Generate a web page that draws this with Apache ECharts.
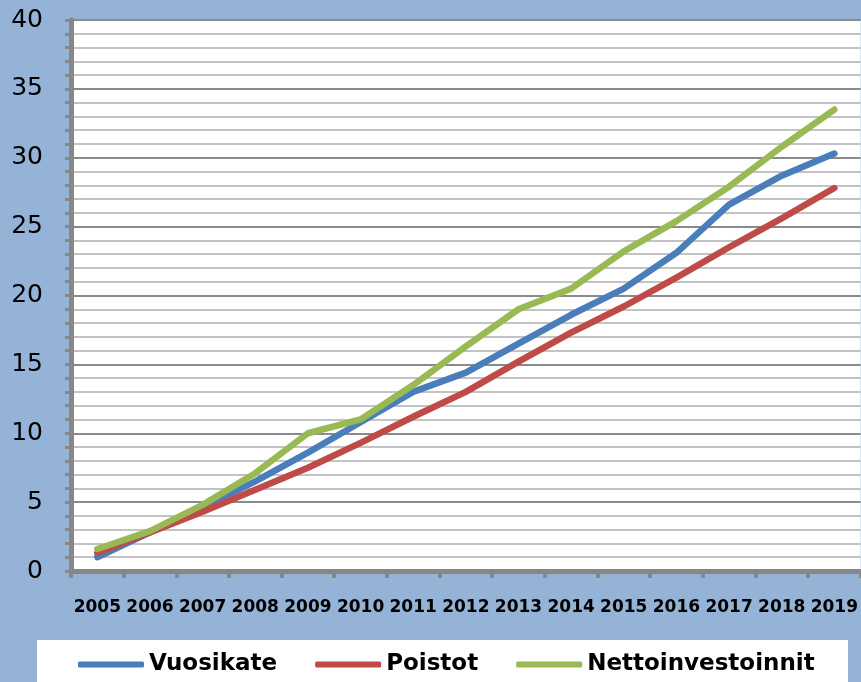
<!DOCTYPE html>
<html>
<head>
<meta charset="utf-8">
<script src="https://cdn.jsdelivr.net/npm/echarts@6/dist/echarts.min.js"></script>
<style>
html,body{margin:0;padding:0;background:#95b3d7;}
#chart{width:861px;height:682px;}
</style>
</head>
<body>
<div id="chart"></div>
<script>
const years = ['2005','2006','2007','2008','2009','2010','2011','2012','2013','2014','2015','2016','2017','2018','2019'];
const vuosikate = [1.0, 2.8, 4.6, 6.5, 8.6, 10.8, 13.0, 14.4, 16.5, 18.6, 20.5, 23.1, 26.6, 28.7, 30.3];
const poistot = [1.3, 2.8, 4.3, 5.9, 7.5, 9.3, 11.2, 13.0, 15.2, 17.3, 19.2, 21.3, 23.5, 25.6, 27.8];
const nettoinvestoinnit = [1.6, 2.9, 4.8, 7.1, 10.0, 11.0, 13.5, 16.3, 19.0, 20.5, 23.2, 25.4, 27.9, 30.8, 33.5];
const seriesNames = ['Vuosikate', 'Poistot', 'Nettoinvestoinnit'];
const colors = ['#4a7ebb', '#be4b48', '#98b954'];

const chart = echarts.init(document.getElementById('chart'), null, {renderer: 'canvas'});
const axisGray = '#878787';
function lineSeries(name, data, color) {
  return {
    name: name, type: 'line', data: data, symbol: 'none', smooth: false,
    itemStyle: {color: color},
    lineStyle: {color: color, width: 6.5, cap: 'round', join: 'round'},
    emphasis: {disabled: true}, animation: false
  };
}
chart.setOption({
  backgroundColor: '#95b3d7',
  animation: false,
  graphic: [{
    type: 'rect', z: 0, silent: true,
    shape: {x: 37, y: 640, width: 811, height: 60},
    style: {fill: '#ffffff'}
  }],
  grid: {left: 71, right: 0, top: 20, bottom: 111, show: true, backgroundColor: '#ffffff', borderWidth: 0},
  legend: {
    left: 78, top: 653, padding: 0, itemWidth: 66, itemHeight: 6, itemGap: 38,
    icon: 'roundRect',
    textStyle: {fontFamily: 'DejaVu Sans', fontWeight: 'bold', fontSize: 23, color: '#000'},
    data: seriesNames
  },
  xAxis: {
    type: 'category', data: years, boundaryGap: true,
    axisLine: {lineStyle: {color: axisGray, width: 5}},
    axisTick: {show: true, length: 7, lineStyle: {color: axisGray, width: 4}},
    axisLabel: {interval: 0, margin: 28, fontFamily: 'DejaVu Sans', fontWeight: 'bold', fontSize: 17, color: '#000'},
    splitLine: {show: false}
  },
  yAxis: {
    type: 'value', min: 0, max: 40, interval: 5,
    axisLine: {show: true, lineStyle: {color: axisGray, width: 5}},
    axisTick: {show: true, length: 6, lineStyle: {color: axisGray, width: 3}},
    minorTick: {show: true, splitNumber: 5, length: 6, lineStyle: {color: axisGray, width: 3}},
    axisLabel: {margin: 28, fontFamily: 'DejaVu Sans', fontSize: 25, color: '#000', padding: [5, 0, 0, 0]},
    splitLine: {show: true, lineStyle: {color: '#8a8a8a', width: 2}},
    minorSplitLine: {show: true, lineStyle: {color: '#c3c3c3', width: 2}}
  },
  series: [
    lineSeries(seriesNames[0], vuosikate, colors[0]),
    lineSeries(seriesNames[1], poistot, colors[1]),
    lineSeries(seriesNames[2], nettoinvestoinnit, colors[2])
  ]
});
</script>
</body>
</html>
